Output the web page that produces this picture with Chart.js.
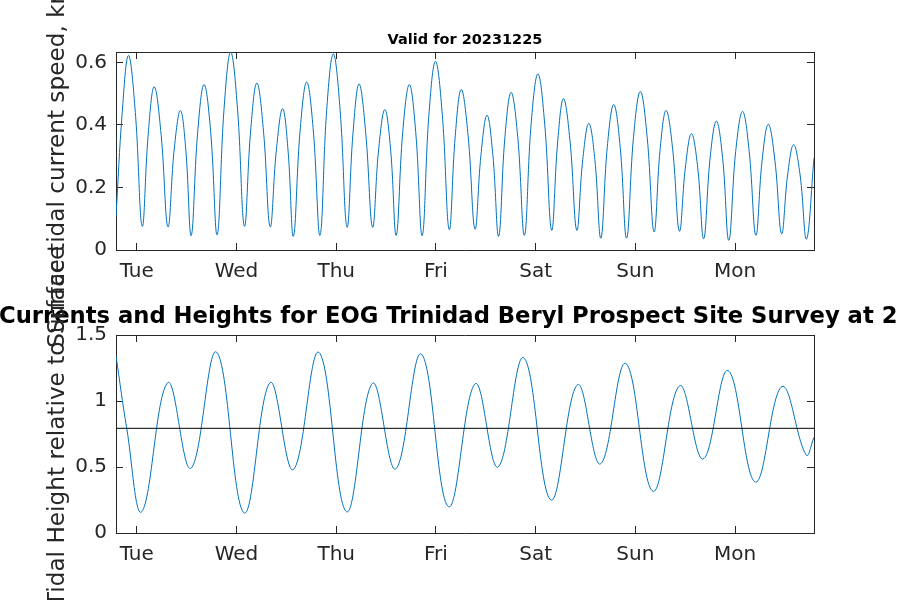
<!DOCTYPE html>
<html>
<head>
<meta charset="utf-8">
<title>Tidal currents and heights</title>
<script src="https://cdn.jsdelivr.net/npm/chart.js@4.4.0/dist/chart.umd.min.js"></script>
<style>
  html, body { margin: 0; padding: 0; background: #fff; }
  #wrap { position: relative; width: 900px; height: 600px; overflow: hidden; }
  #wrap canvas { position: absolute; left: 0; top: 0; }
</style>
</head>
<body>
<div id="wrap">
  <canvas id="heightChart" width="900" height="600"></canvas>
  <canvas id="speedChart" width="900" height="600"></canvas>
</div>
<script>
// time axis is in hours from Tuesday 00:00
const startHour = -5;
const endHour = 163;
const dayTickHours = [0, 24, 48, 72, 96, 120, 144];
const dayNames = ['Tue', 'Wed', 'Thu', 'Fri', 'Sat', 'Sun', 'Mon'];

// surface tidal current speed (knots)
const speedHours = [
    -5.0, -3.5, -2.0, -0.35, 1.3, 2.75, 4.2, 5.85, 7.5, 9.0, 10.5, 11.8, 13.1, 14.65, 16.2, 17.8,
    19.35, 21.0, 22.6, 24.25, 25.9, 27.4, 28.9, 30.5, 32.1, 33.6, 35.1, 36.4, 37.7, 39.3, 40.9, 42.5,
    44.1, 45.7, 47.3, 48.95, 50.6, 52.05, 53.5, 55.1, 56.75, 58.2, 59.7, 61.1, 62.45, 64.0, 65.6, 67.15,
    68.7, 70.3, 71.9, 73.55, 75.2, 76.65, 78.1, 79.75, 81.4, 82.85, 84.3, 85.7, 87.1, 88.6, 90.1, 91.7,
    93.3, 94.9, 96.55, 98.2, 99.85, 101.3, 102.7, 104.3, 105.9, 107.35, 108.8, 110.25, 111.7, 113.25, 114.8, 116.35,
    117.9, 119.55, 121.2, 122.85, 124.5, 125.95, 127.4, 129.0, 130.6, 132.05, 133.5, 135.0, 136.45, 138.0, 139.5, 141.0,
    142.5, 144.15, 145.8, 147.4, 149.0, 150.5, 152.0, 153.6, 155.2, 156.65, 158.1, 159.65, 161.2, 163.0
];
const speedKnots = [
    0.108, 0.44, 0.622, 0.44, 0.076, 0.37, 0.522, 0.37, 0.074, 0.32, 0.446, 0.32, 0.046, 0.375, 0.529, 0.375,
    0.049, 0.45, 0.633, 0.45, 0.076, 0.38, 0.534, 0.38, 0.074, 0.32, 0.452, 0.32, 0.044, 0.38, 0.537, 0.38,
    0.047, 0.445, 0.627, 0.445, 0.073, 0.375, 0.531, 0.375, 0.073, 0.32, 0.449, 0.32, 0.047, 0.375, 0.529, 0.375,
    0.046, 0.43, 0.603, 0.43, 0.065, 0.365, 0.513, 0.365, 0.067, 0.305, 0.431, 0.305, 0.044, 0.36, 0.504, 0.36,
    0.047, 0.40, 0.563, 0.40, 0.063, 0.345, 0.484, 0.345, 0.063, 0.29, 0.405, 0.29, 0.038, 0.33, 0.465, 0.33,
    0.038, 0.36, 0.507, 0.36, 0.058, 0.32, 0.446, 0.32, 0.060, 0.265, 0.372, 0.265, 0.036, 0.295, 0.412, 0.295,
    0.031, 0.315, 0.443, 0.315, 0.047, 0.285, 0.402, 0.285, 0.052, 0.24, 0.337, 0.24, 0.035, 0.294
];
const speedTicks = [0, 0.2, 0.4, 0.6];

// tidal height relative to surface, highs and lows
const heightHours = [
    -5.0, -2.4, 1.2, 7.46, 13.0, 19.18, 25.85, 32.1, 37.64, 43.83, 50.49, 56.75, 62.29, 68.47, 75.05,
    81.47, 86.92, 93.1, 99.69, 106.1, 111.57, 117.67, 124.25, 130.67, 136.3, 142.3, 148.9, 155.3, 161.1, 163.0
];
const heightValues = [
    1.341, 0.79, 0.161, 1.139, 0.490, 1.371, 0.152, 1.139, 0.480, 1.369, 0.161, 1.134, 0.485, 1.356, 0.199,
    1.131, 0.500, 1.328, 0.250, 1.124, 0.523, 1.285, 0.316, 1.116, 0.561, 1.230, 0.386, 1.109, 0.591, 0.725
];
const meanLevel = [0.793, 0.793];
const heightTicks = [0, 0.5, 1, 1.5];

const lineColor = '#0072BD';
const axisColor = '#262626';
const tickFont = { family: 'DejaVu Sans', size: 20 };

// MATLAB-like box: ticks inside on all four sides
function boxAxes(yMin, yMax, yTicks) {
    const setX = s => { s.ticks = dayTickHours.map(v => ({ value: v })); };
    const setY = s => { s.ticks = yTicks.map(v => ({ value: v })); };
    const grid = { drawOnChartArea: false, tickLength: -7, color: axisColor, lineWidth: 1 };
    const border = { color: axisColor, width: 1 };
    return {
        x: {
            type: 'linear', position: 'bottom', min: startHour, max: endHour,
            afterBuildTicks: setX, afterFit: s => { s.height = 40; },
            grid: grid, border: border,
            ticks: {
                color: axisColor, font: tickFont, padding: 17, maxRotation: 0, autoSkip: false,
                callback: v => dayNames[dayTickHours.indexOf(v)]
            }
        },
        x2: {
            type: 'linear', position: 'top', min: startHour, max: endHour,
            afterBuildTicks: setX, afterFit: s => { s.height = 0; },
            grid: grid, border: border, ticks: { display: false }
        },
        y: {
            type: 'linear', position: 'left', min: yMin, max: yMax,
            afterBuildTicks: setY, afterFit: s => { s.width = 116; },
            grid: grid, border: border,
            ticks: { color: axisColor, font: tickFont, padding: 16, callback: v => String(v) }
        },
        y2: {
            type: 'linear', position: 'right', min: yMin, max: yMax,
            afterBuildTicks: setY, afterFit: s => { s.width = 0; },
            grid: grid, border: border, ticks: { display: false }
        }
    };
}

// titles and y labels are allowed to run past the axes, like in the original figure
function textPlugin(title, titleFont, titleX, titleY, titleAlign, yLabel, yLabelShift) {
    return {
        id: 'figureText',
        afterDraw(chart) {
            const ctx = chart.ctx;
            const area = chart.chartArea;
            ctx.save();
            ctx.fillStyle = '#000';
            ctx.font = titleFont;
            ctx.textAlign = titleAlign;
            ctx.textBaseline = 'alphabetic';
            ctx.fillText(title, titleX === null ? (area.left + area.right) / 2 : titleX, titleY);
            ctx.fillStyle = axisColor;
            ctx.font = '23.2px "DejaVu Sans"';
            ctx.translate(63.5, (area.top + area.bottom) / 2 + yLabelShift);
            ctx.rotate(-Math.PI / 2);
            ctx.textAlign = 'center';
            ctx.fillText(yLabel, 0, 0);
            ctx.restore();
        }
    };
}

const ctx1 = document.getElementById('speedChart').getContext('2d');
const speedChart = new Chart(ctx1, {
    type: 'line',
    data: {
        datasets: [
            {
                label: 'Current speed',
                data: speedHours.map((h, i) => ({ x: h, y: speedKnots[i] })),
                borderColor: lineColor,
                borderWidth: 1,
                pointRadius: 0,
                tension: 0.4,
                fill: false
            }
        ]
    },
    options: {
        responsive: false,
        animation: false,
        events: [],
        layout: { padding: { left: 0, top: 52, right: 86, bottom: 310 } },
        scales: boxAxes(0, Math.max(...speedKnots), speedTicks),
        plugins: { legend: { display: false }, tooltip: { enabled: false } }
    },
    plugins: [textPlugin('Valid for 20231225', 'bold 14.5px "DejaVu Sans"', null, 44, 'center',
        'Surface tidal current speed, knots', 0)]
});

const ctx2 = document.getElementById('heightChart').getContext('2d');
const heightChart = new Chart(ctx2, {
    type: 'line',
    data: {
        datasets: [
            {
                label: 'Mean level',
                data: [startHour, endHour].map((h, i) => ({ x: h, y: meanLevel[i] })),
                borderColor: '#000',
                borderWidth: 1,
                pointRadius: 0,
                fill: false
            },
            {
                label: 'Tidal height',
                data: heightHours.map((h, i) => ({ x: h, y: heightValues[i] })),
                borderColor: lineColor,
                borderWidth: 1,
                pointRadius: 0,
                tension: 0.4,
                fill: false
            }
        ]
    },
    options: {
        responsive: false,
        animation: false,
        events: [],
        layout: { padding: { left: 0, top: 335, right: 86, bottom: 27 } },
        scales: boxAxes(0, 1.5, heightTicks),
        plugins: { legend: { display: false }, tooltip: { enabled: false } }
    },
    plugins: [textPlugin('Currents and Heights for EOG Trinidad Beryl Prospect Site Survey at 2',
        'bold 22.7px "DejaVu Sans"', -1, 323, 'left', 'Tidal Height relative to Surface', -8)]
});
</script>
</body>
</html>
